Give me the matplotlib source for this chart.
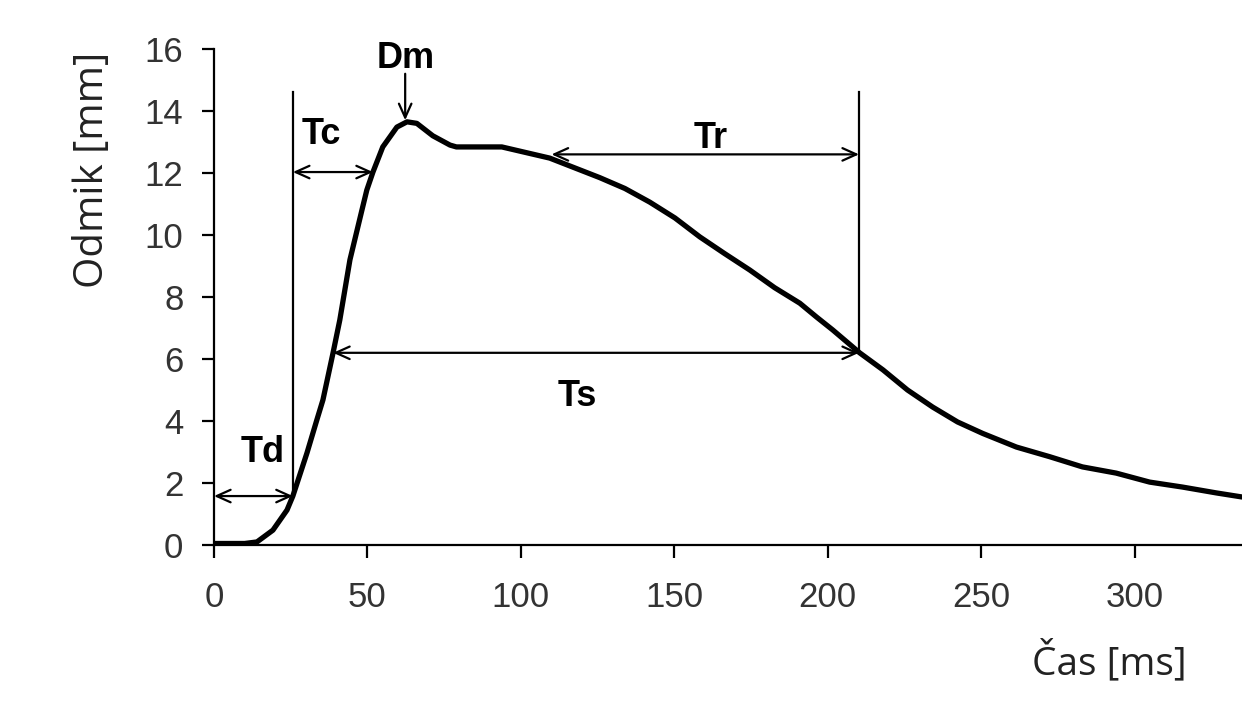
import matplotlib
matplotlib.use("Agg")
import matplotlib.pyplot as plt

# displacement curve
cas = [0, 10, 14, 19.2, 23.8, 25.7, 30.3, 33.5, 35.5, 38.8, 41, 44.3, 48.2, 49.8,
       51.8, 55, 59.6, 62.9, 66.1, 71.3, 76.9, 79, 93.8, 109.4, 125.7, 133.9,
       142, 150.2, 158.3, 166.4, 174.6, 182.7, 190.9, 196.4, 201.6, 210.4, 218,
       226, 234.2, 242.3, 250.5, 261.5, 272.3, 283, 294, 304.9, 315.6, 326.7, 335]
odmik = [0.05, 0.05, 0.1, 0.48, 1.13, 1.58, 2.97, 4.03, 4.68, 6.2, 7.26, 9.2, 10.8, 11.45,
         12.03, 12.84, 13.48, 13.65, 13.6, 13.2, 12.9, 12.84, 12.84, 12.48, 11.85, 11.5,
         11.06, 10.55, 9.94, 9.4, 8.87, 8.3, 7.8, 7.35, 6.94, 6.2, 5.65,
         5.0, 4.45, 3.97, 3.6, 3.16, 2.85, 2.52, 2.32, 2.03, 1.87, 1.68, 1.55]

# characteristic points
td_t, td_d = 25.7, 1.58
tc_t, tc_d = 51.8, 12.03
dm_t, dm_d = 62.3, 13.7
ts_t0, ts_t1, ts_d = 38.8, 210.2, 6.2
tr_t0, tr_t1, tr_d = 110.0, 210.2, 12.6
line_top = 14.6

xticks = [0, 50, 100, 150, 200, 250, 300]
yticks = [0, 2, 4, 6, 8, 10, 12, 14, 16]

fig = plt.figure(figsize=(12.42, 7.2), dpi=100)
ax = fig.add_axes([0.1723, 0.243, 0.8277, 0.689])

ax.plot(cas, odmik, color="black", lw=3.8, solid_capstyle="round",
        solid_joinstyle="round")

# vertical helper lines
ax.plot([td_t, td_t], [td_d, line_top], color="black", lw=1.6)
ax.plot([ts_t1, ts_t1], [ts_d, line_top], color="black", lw=1.6)

arrow = dict(arrowstyle="<->,head_length=1.0,head_width=0.45", color="black",
             lw=1.6, shrinkA=0, shrinkB=0)
ax.annotate("", xy=(0, td_d), xytext=(td_t, td_d), arrowprops=arrow)
ax.annotate("", xy=(td_t, tc_d), xytext=(tc_t, tc_d), arrowprops=arrow)
ax.annotate("", xy=(ts_t0, ts_d), xytext=(ts_t1, ts_d), arrowprops=arrow)
ax.annotate("", xy=(tr_t0, tr_d), xytext=(tr_t1, tr_d), arrowprops=arrow)
ax.annotate("", xy=(dm_t, dm_d), xytext=(dm_t, 15.2),
            arrowprops=dict(arrowstyle="->,head_length=1.0,head_width=0.45",
                            color="black", lw=1.6, shrinkA=0, shrinkB=0))

lbl = dict(fontsize=26, fontweight="bold", ha="center", va="center",
           family="Liberation Sans")
ax.text(16, 3.0, "Td", **lbl)
ax.text(35, 13.25, "Tc", **lbl)
ax.text(62.5, 15.7, "Dm", **lbl)
ax.text(162, 13.1, "Tr", **lbl)
ax.text(118.5, 4.8, "Ts", **lbl)

ax.set_xlim(0, 335)
ax.set_ylim(0, 16)
ax.set_xticks(xticks)
ax.set_yticks(yticks)
for side in ["top", "right"]:
    ax.spines[side].set_visible(False)
for side in ["left", "bottom"]:
    ax.spines[side].set_linewidth(1.6)
ax.tick_params(direction="out", length=9, width=1.6, labelsize=25,
               labelcolor="#333333")
ax.tick_params(axis="x", pad=17)
ax.tick_params(axis="y", pad=13)
for lab in ax.get_xticklabels() + ax.get_yticklabels():
    lab.set_family("Liberation Sans")

fig.text(0.075, 0.764, "Odmik [mm]", rotation=90, ha="center", va="center",
         fontsize=29, color="#222222", family="Open Sans")
fig.text(0.893, 0.08, "Čas [ms]", ha="center", va="center",
         fontsize=28, color="#222222", family="Open Sans")

fig.savefig("out.png", dpi=100, facecolor="white")
